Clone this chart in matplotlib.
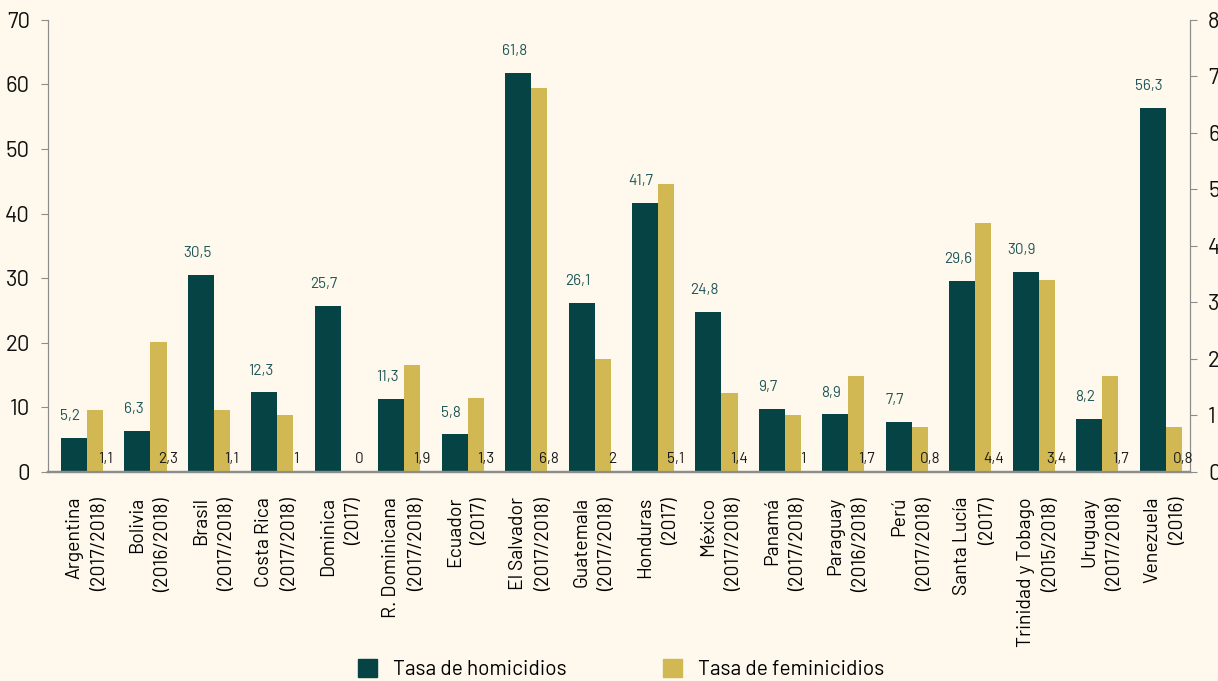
import numpy as np
import matplotlib
matplotlib.use("Agg")
import matplotlib.pyplot as plt
from matplotlib.patches import Patch

# data
countries = ["Argentina\n(2017/2018)", "Bolivia\n(2016/2018)", "Brasil\n(2017/2018)",
             "Costa Rica\n(2017/2018)", "Dominica\n(2017)", "R. Dominicana\n(2017/2018)",
             "Ecuador\n(2017)", "El Salvador\n(2017/2018)", "Guatemala\n(2017/2018)",
             "Honduras\n(2017)", "México\n(2017/2018)", "Panamá\n(2017/2018)",
             "Paraguay\n(2016/2018)", "Perú\n(2017/2018)", "Santa Lucía\n(2017)",
             "Trinidad y Tobago\n(2015/2018)", "Uruguay\n(2017/2018)", "Venezuela\n(2016)"]
homicidios = [5.2, 6.3, 30.5, 12.3, 25.7, 11.3, 5.8, 61.8, 26.1, 41.7, 24.8, 9.7,
              8.9, 7.7, 29.6, 30.9, 8.2, 56.3]
feminicidios = [1.1, 2.3, 1.1, 1, 0, 1.9, 1.3, 6.8, 2, 5.1, 1.4, 1, 1.7, 0.8,
                4.4, 3.4, 1.7, 0.8]

BG = "#fef9ec"
DARK = "#064344"
GOLD = "#d1b853"
GRAY = "#8c8c8c"

plt.rcParams["font.family"] = ["Barlow", "Roboto Condensed", "DejaVu Sans"]


def fmt(v):
    s = ("%.1f" % v).rstrip("0").rstrip(".")
    return s.replace(".", ",")


fig = plt.figure(figsize=(12.18, 6.81), dpi=100, facecolor=BG)
ax = fig.add_axes([0.0394, 0.307, 0.9376, 0.664])
ax.set_facecolor(BG)
ax2 = ax.twinx()

x = np.arange(len(countries))
w1, w2 = 0.41, 0.253
ax.bar(x - 0.295, homicidios, width=w1, align="edge", color=DARK, zorder=2)
ax2.bar(x + 0.115, feminicidios, width=w2, align="edge", color=GOLD, zorder=2)

ax.set_xlim(-0.5, len(countries) - 0.5)
ax.set_ylim(0, 70)
ax2.set_ylim(0, 8)
ax.set_yticks(range(0, 71, 10))
ax2.set_yticks(range(0, 9))

for xi, v in zip(x, homicidios):
    ax.text(xi - 0.15, v + 2.3, fmt(v), ha="center", va="bottom",
            fontsize=11, color="#1f5658")
for xi, v in zip(x, feminicidios):
    ax2.text(xi + 0.115 + w2 + 0.03, 0.23, fmt(v), ha="center", va="center",
             fontsize=11, color="#1a1a1a")

ax.set_xticks(x + 0.115)
ax.set_xticklabels(countries, rotation=90, ha="center", va="top",
                   multialignment="right", fontsize=14, linespacing=1.55)
ax.tick_params(axis="x", length=0, pad=18)
ax.tick_params(axis="y", colors=GRAY, labelcolor="#111111", labelsize=16,
               length=5, direction="out", pad=8)
ax2.tick_params(axis="y", colors=GRAY, labelcolor="#111111", labelsize=16,
                length=5, direction="out", pad=8)

for a in (ax, ax2):
    a.spines["top"].set_visible(False)
    a.spines["left"].set_color(GRAY)
    a.spines["right"].set_color(GRAY)
    a.spines["bottom"].set_color(GRAY)
    a.spines["bottom"].set_linewidth(1.6)

handles = [Patch(color=DARK, label="Tasa de homicidios"),
           Patch(color=GOLD, label="Tasa de feminicidios")]
fig.legend(handles=handles, loc="center", bbox_to_anchor=(0.51, 0.018), ncol=2,
           frameon=False, fontsize=15, handlelength=0.9, handleheight=1.0,
           columnspacing=4.6, handletextpad=0.8)

fig.savefig("out.png", dpi=100, facecolor=BG)
